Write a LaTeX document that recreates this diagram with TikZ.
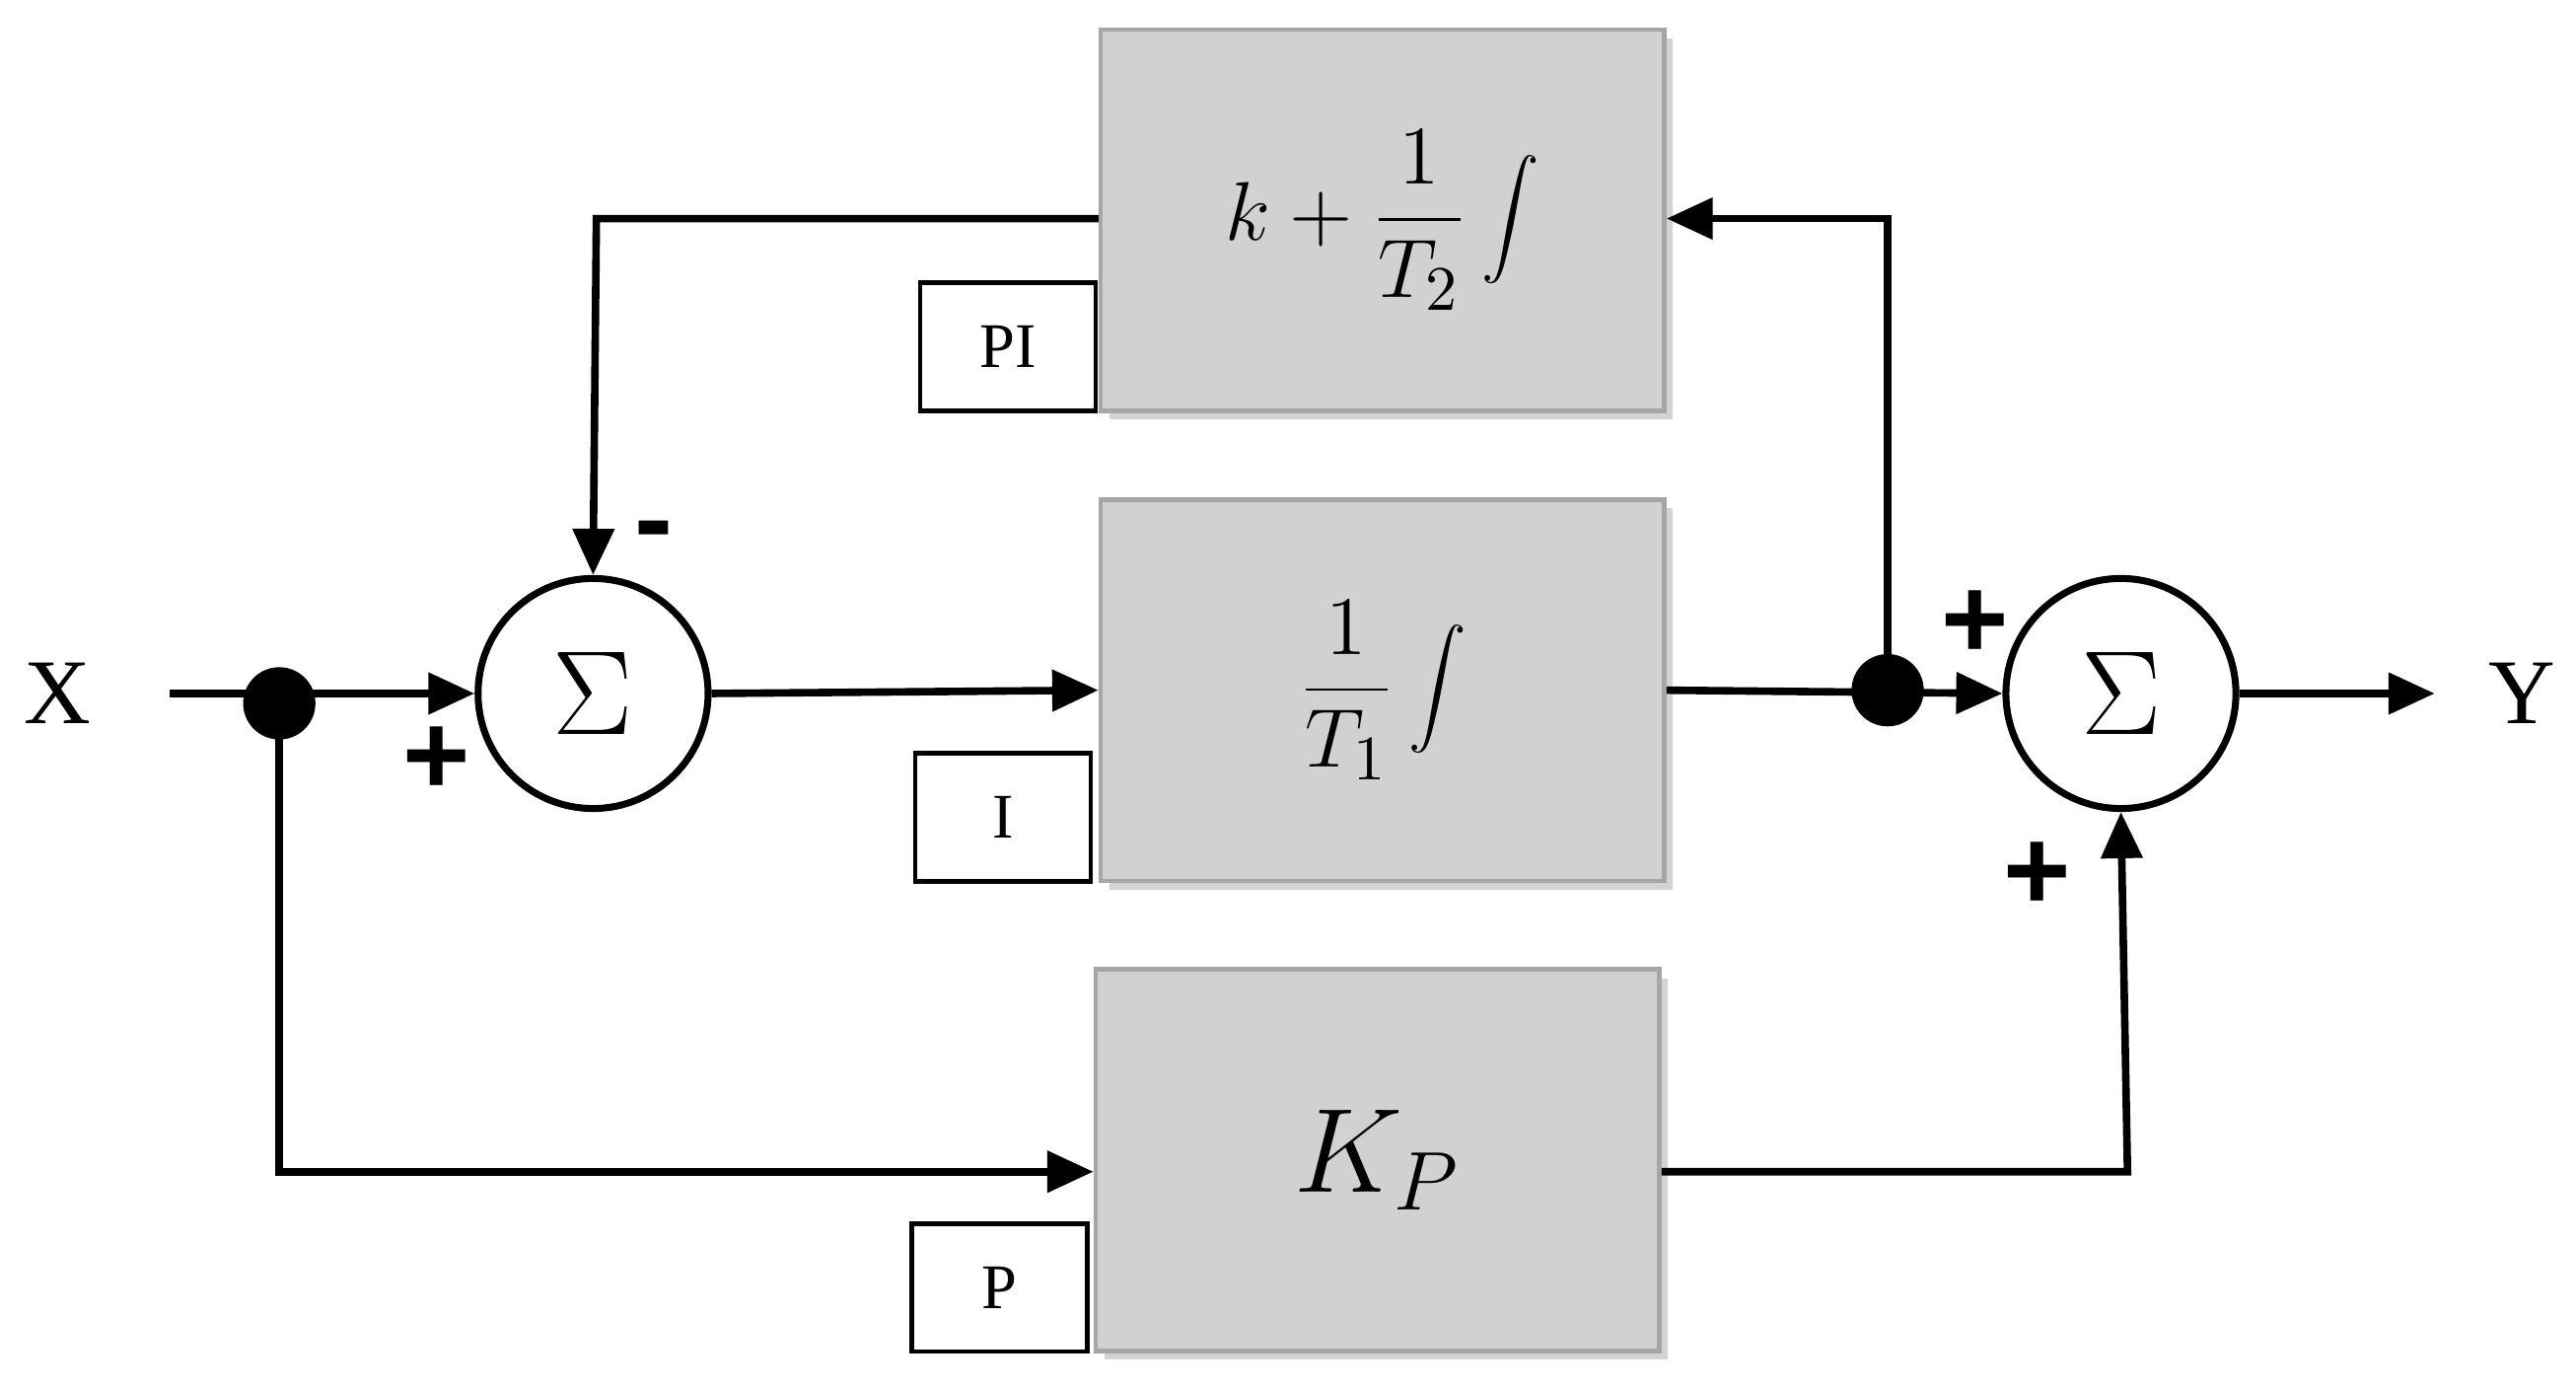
\documentclass[tikz,border=0pt]{standalone}
\usepackage{fontspec}
\setmainfont{Liberation Serif}
\newfontfamily\signfont{Liberation Sans}
\usetikzlibrary{arrows.meta,shadows}
\begin{document}
\begin{tikzpicture}[x=0.01cm,y=-0.01cm,
  blk/.style={draw=gray!70,fill={rgb,255:red,211;green,208;blue,209},line width=0.8pt,minimum width=343*0.01cm,minimum height=232*0.01cm,drop shadow={opacity=0.35,shadow xshift=1.5pt,shadow yshift=-1.5pt}},
  tag/.style={draw,line width=0.8pt,fill=white,minimum width=107*0.01cm,minimum height=78*0.01cm,font=\fontsize{11}{13}\selectfont},
  sum/.style={circle,draw,line width=1.2pt,minimum size=140*0.01cm,inner sep=0pt,font=\fontsize{20}{24}\selectfont},
  dot/.style={circle,fill,minimum size=44*0.01cm,inner sep=0pt},
  w/.style={line width=1.3pt},
  a/.style={w,-{Triangle[length=8pt,width=7pt]}},
  sgn/.style={font=\signfont\bfseries\fontsize{20}{22}\selectfont},
  lbl/.style={font=\fontsize{16}{18}\selectfont}]
\useasboundingbox (0,0) rectangle (1568,845);
\node[blk] (pi) at (841.5,134) {\fontsize{15}{18}\selectfont$\displaystyle k+\frac{1}{T_2}\int$};
\node[blk] (ib) at (841.5,420) {\fontsize{15}{18}\selectfont$\displaystyle \frac{1}{T_1}\int$};
\node[blk] (pb) at (838.5,706) {\fontsize{22}{26}\selectfont$K_P$};
\node[tag] (tpi) at (613.5,211) {PI};
\node[tag] (ti) at (610.5,497.5) {I};
\node[tag] (tp) at (608.5,783.5) {P};
\node[sum] (s1) at (361,422) {$\Sigma$};
\node[sum] (s2) at (1291,422) {$\Sigma$};
\node[dot] (d1) at (170,428) {};
\node[dot] (d2) at (1149,420) {};
\node[lbl] (x) at (35,422) {X};
\node[lbl] (y) at (1535,422) {Y};
\coordinate (xs) at (103,422);
\coordinate (ye) at (1482,422);
\coordinate (c1) at (1149,133);
\coordinate (c2) at (363,133);
\coordinate (c3) at (170,713);
\coordinate (c4) at (1295,713);
\draw[a] (xs) -- (s1.west);
\draw[a] (s1.east) -- (ib.west);
\draw[a] (ib.east) -- (s2.west);
\draw[a] (s2.east) -- (ye);
\draw[a] (d2.center) -- (c1) -- (pi.east |- c1);
\draw[a] (pi.west |- c2) -- (c2) -- (s1.north);
\draw[a] (d1.center) -- (c3) -- (pb.west |- c3);
\draw[a] (pb.east |- c4) -- (c4) -- (s2.south);
\node[sgn] at (398,328) {-};
\node[sgn] at (266,463) {+};
\node[sgn] at (1202,380) {+};
\node[sgn] at (1240,533) {+};
\end{tikzpicture}
\end{document}
